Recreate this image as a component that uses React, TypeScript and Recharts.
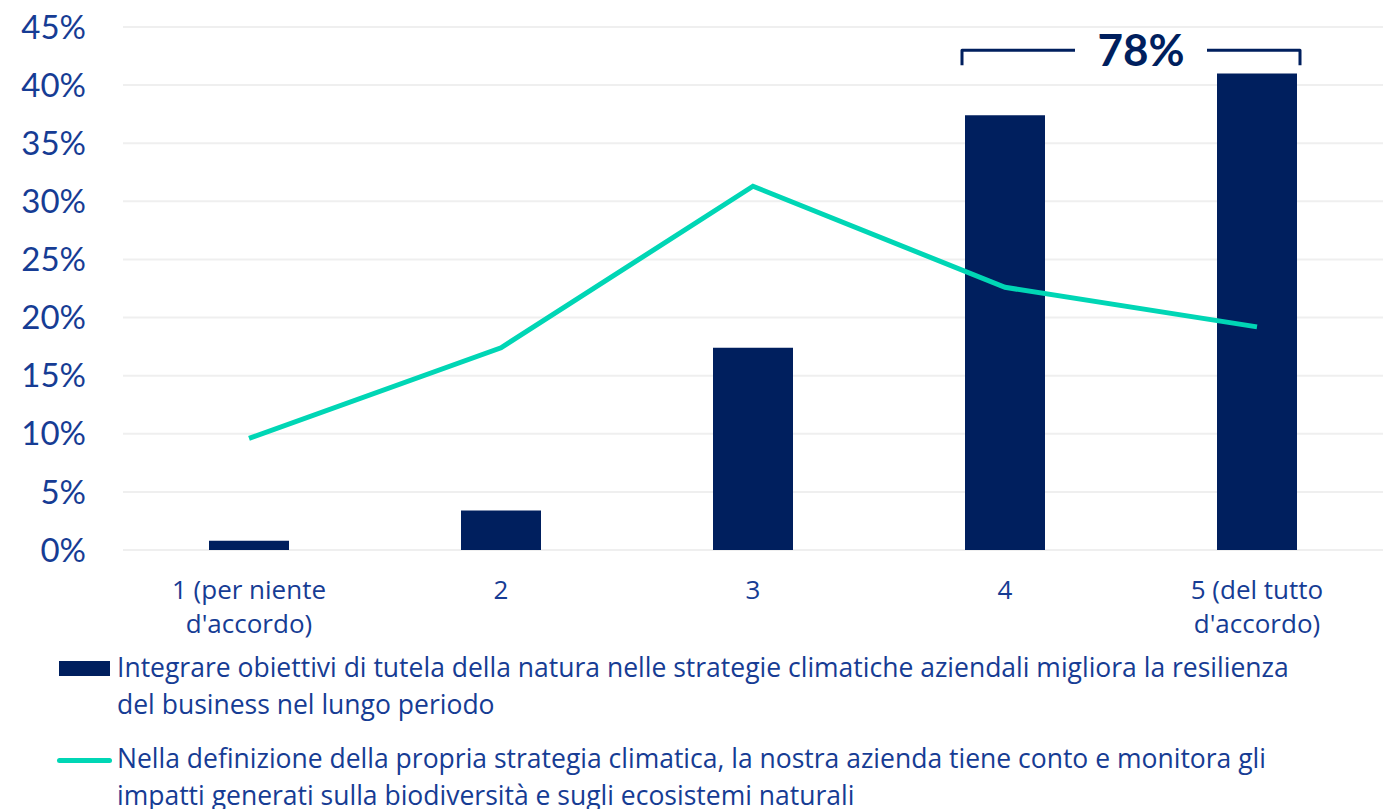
import React from "react";
import { ComposedChart, Bar, Line, XAxis, YAxis, CartesianGrid } from "recharts";

// survey answers on a 1-5 scale
const categories = ["1 (per niente d'accordo)", "2", "3", "4", "5 (del tutto d'accordo)"];
const categoryLines = [["1 (per niente", "d'accordo)"], ["2"], ["3"], ["4"], ["5 (del tutto", "d'accordo)"]];
const barValues = [0.8, 3.4, 17.4, 37.4, 41.0];
const lineValues = [9.6, 17.4, 31.3, 22.6, 19.2];
const yTicks = [0, 5, 10, 15, 20, 25, 30, 35, 40, 45];

const barLegend = [
  "Integrare obiettivi di tutela della natura nelle strategie climatiche aziendali migliora la resilienza",
  "del business nel lungo periodo",
];
const lineLegend = [
  "Nella definizione della propria strategia climatica, la nostra azienda tiene conto e monitora gli",
  "impatti generati sulla biodiversità e sugli ecosistemi naturali",
];

// bracket over the two "agree" answers
const bracketIdx = [3, 4];
const bracketLevel = 43;

const NAVY = "#001F5E";
const TEAL = "#00D6B5";
const TEXT = "#163C94";
const FONT = "Lato, 'Noto Sans', sans-serif";
const TEXT_FONT = "'Open Sans', 'Noto Sans', sans-serif";

const W = 1391;
const H = 650;
const MARGIN = { top: 27, right: 8, bottom: 0, left: 8 };
const Y_WIDTH = 115;
const X_HEIGHT = H - 550;
const BAR_SIZE = 80;
const Y_MAX = 45;

const data = categories.map((c, i) => ({
  name: c,
  bar: barValues[i],
  line: lineValues[i],
}));

function CategoryTick(props: any) {
  const { x, y, index } = props;
  const lines = categoryLines[index] || [];
  return (
    <text x={x} y={y} textAnchor="middle" fill={TEXT} fontSize={26} fontFamily={TEXT_FONT}>
      {lines.map((l, i) => (
        <tspan key={i} x={x} dy={i === 0 ? 41 : 34}>
          {l}
        </tspan>
      ))}
    </text>
  );
}

function Bracket() {
  const plotLeft = MARGIN.left + Y_WIDTH;
  const plotW = W - plotLeft - MARGIN.right;
  const band = plotW / categories.length;
  const plotTop = MARGIN.top;
  const plotH = H - MARGIN.bottom - X_HEIGHT - plotTop;
  const x1 = plotLeft + band * (bracketIdx[0] + 0.5) - BAR_SIZE / 2 - 3;
  const x2 = plotLeft + band * (bracketIdx[1] + 0.5) + BAR_SIZE / 2 + 3;
  const y = plotTop + plotH * (1 - bracketLevel / Y_MAX);
  const total = Math.round(bracketIdx.reduce((s, i) => s + barValues[i], 0));
  const cx = (x1 + x2) / 2 + 10;
  const gap = 66;
  return (
    <svg width={W} height={H} style={{ position: "absolute", left: 0, top: 0, pointerEvents: "none" }}>
      <path
        d={`M${x1},${y + 15} L${x1},${y} L${cx - gap},${y} M${cx + gap},${y} L${x2},${y} L${x2},${y + 15}`}
        fill="none"
        stroke={NAVY}
        strokeWidth={3}
        strokeLinejoin="round"
      />
      <text x={cx} y={y + 16} textAnchor="middle" fill={NAVY} fontSize={44} fontWeight={700} fontFamily={FONT}>
        {total}%
      </text>
    </svg>
  );
}

function LegendRow({ lines, kind, top }: { lines: string[]; kind: "bar" | "line"; top: number }) {
  return (
    <div style={{ position: "absolute", left: 0, top, width: W, height: 809 - top, overflow: "hidden" }}>
      {kind === "bar" ? (
        <div style={{ position: "absolute", left: 59, top: 12, width: 51, height: 15, background: NAVY }} />
      ) : (
        <div style={{ position: "absolute", left: 57, top: 18, width: 55, height: 5, borderRadius: 3, background: TEAL }} />
      )}
      <div style={{ position: "absolute", left: 117, top: 0, fontFamily: TEXT_FONT, fontSize: 26.5, lineHeight: "37px", color: TEXT, whiteSpace: "nowrap" }}>
        {lines.map((l, i) => (
          <div key={i}>{l}</div>
        ))}
      </div>
    </div>
  );
}

export default function App() {
  return (
    <div style={{ position: "absolute", left: 0, top: 0, width: W, height: 809, background: "#fff", overflow: "hidden" }}>
      <ComposedChart width={W} height={H} data={data} margin={MARGIN}>
        <CartesianGrid vertical={false} stroke="#EFEFEF" strokeWidth={2} />
        <XAxis
          dataKey="name"
          axisLine={false}
          tickLine={false}
          interval={0}
          height={X_HEIGHT}
          tick={<CategoryTick />}
        />
        <YAxis
          domain={[0, Y_MAX]}
          ticks={yTicks}
          width={Y_WIDTH}
          axisLine={false}
          tickLine={false}
          tickSize={0}
          tickMargin={37}
          tickFormatter={(v: number) => `${v}%`}
          tick={{ fill: TEXT, fontSize: 33, fontFamily: FONT }}
        />
        <Bar dataKey="bar" fill={NAVY} barSize={BAR_SIZE} isAnimationActive={false} />
        <Line
          dataKey="line"
          type="linear"
          stroke={TEAL}
          strokeWidth={5}
          dot={false}
          activeDot={false}
          isAnimationActive={false}
        />
      </ComposedChart>
      <Bracket />
      <LegendRow lines={barLegend} kind="bar" top={649} />
      <LegendRow lines={lineLegend} kind="line" top={740} />
    </div>
  );
}
